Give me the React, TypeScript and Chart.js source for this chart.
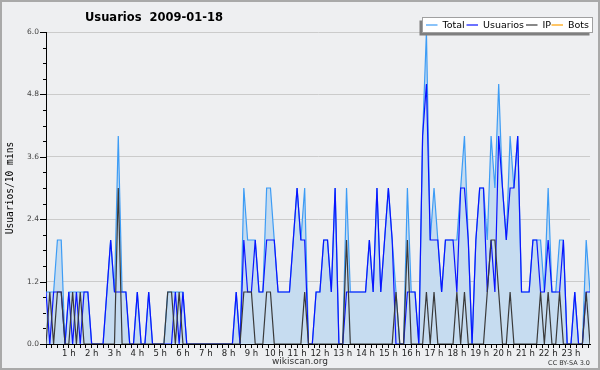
import React, { useEffect, useRef } from "react";
import { Chart, registerables } from "chart.js";

Chart.register(...registerables);

const TITLE = "Usuarios  2009-01-18";
const Y_TITLE = "Usuarios/10 mins";
const hourLabels = [
  "1 h", "2 h", "3 h", "4 h", "5 h", "6 h", "7 h", "8 h", "9 h", "10 h", "11 h", "12 h",
  "13 h", "14 h", "15 h", "16 h", "17 h", "18 h", "19 h", "20 h", "21 h", "22 h", "23 h",
];
const legendLabels = ["Total", "Usuarios", "IP", "Bots"];

// 144 ten-minute slots, 0:00 .. 23:50
const total = [
  1, 1, 1, 2, 2, 0, 1, 1, 1, 1, 1, 1,
  0, 0, 0, 0, 1, 2, 1, 4, 1, 1, 0, 0,
  1, 0, 0, 1, 0, 0, 0, 0, 1, 1, 1, 1,
  1, 0, 0, 0, 0, 0, 0, 0, 0, 0, 0, 0,
  0, 0, 1, 0, 3, 2, 2, 2, 1, 1, 3, 3,
  2, 1, 1, 1, 1, 2, 3, 2, 3, 0, 0, 1,
  1, 2, 2, 1, 3, 0, 0, 3, 1, 1, 1, 1,
  1, 2, 1, 3, 1, 2, 3, 2, 1, 0, 0, 3,
  1, 1, 0, 4, 6, 2, 3, 2, 1, 2, 2, 2,
  2, 3, 4, 2, 0, 2, 3, 3, 2, 4, 3, 5,
  3, 2, 4, 3, 4, 1, 1, 1, 2, 2, 2, 1,
  3, 1, 1, 2, 2, 0, 0, 1, 0, 0, 2, 1,
];
const usuarios = [
  1, 0, 1, 1, 1, 0, 1, 0, 1, 0, 1, 1,
  0, 0, 0, 0, 1, 2, 1, 1, 1, 1, 0, 0,
  1, 0, 0, 1, 0, 0, 0, 0, 0, 0, 1, 0,
  1, 0, 0, 0, 0, 0, 0, 0, 0, 0, 0, 0,
  0, 0, 1, 0, 2, 1, 1, 2, 1, 1, 2, 2,
  2, 1, 1, 1, 1, 2, 3, 2, 2, 0, 0, 1,
  1, 2, 2, 1, 3, 0, 0, 1, 1, 1, 1, 1,
  1, 2, 1, 3, 1, 2, 3, 2, 0, 0, 0, 1,
  1, 1, 0, 4, 5, 2, 2, 2, 1, 2, 2, 2,
  1, 3, 3, 2, 0, 2, 3, 3, 1, 2, 1, 4,
  3, 2, 3, 3, 4, 1, 1, 1, 2, 2, 1, 1,
  2, 1, 1, 1, 2, 0, 0, 1, 0, 0, 1, 1,
];
const ip = [
  0, 1, 0, 1, 1, 0, 0, 1, 0, 1, 0, 0,
  0, 0, 0, 0, 0, 0, 0, 3, 0, 0, 0, 0,
  0, 0, 0, 0, 0, 0, 0, 0, 1, 1, 0, 1,
  0, 0, 0, 0, 0, 0, 0, 0, 0, 0, 0, 0,
  0, 0, 0, 0, 1, 1, 1, 0, 0, 0, 1, 1,
  0, 0, 0, 0, 0, 0, 0, 0, 1, 0, 0, 0,
  0, 0, 0, 0, 0, 0, 0, 2, 0, 0, 0, 0,
  0, 0, 0, 0, 0, 0, 0, 0, 1, 0, 0, 2,
  0, 0, 0, 0, 1, 0, 1, 0, 0, 0, 0, 0,
  1, 0, 1, 0, 0, 0, 0, 0, 1, 2, 2, 1,
  0, 0, 1, 0, 0, 0, 0, 0, 0, 0, 1, 0,
  1, 0, 0, 1, 0, 0, 0, 0, 0, 0, 1, 0,
];
const bots = [
  0, 0, 0, 0, 0, 0, 0, 0, 0, 0, 0, 0,
  0, 0, 0, 0, 0, 0, 0, 0, 0, 0, 0, 0,
  0, 0, 0, 0, 0, 0, 0, 0, 0, 0, 0, 0,
  0, 0, 0, 0, 0, 0, 0, 0, 0, 0, 0, 0,
  0, 0, 0, 0, 0, 0, 0, 0, 0, 0, 0, 0,
  0, 0, 0, 0, 0, 0, 0, 0, 0, 0, 0, 0,
  0, 0, 0, 0, 0, 0, 0, 0, 0, 0, 0, 0,
  0, 0, 0, 0, 0, 0, 0, 0, 0, 0, 0, 0,
  0, 0, 0, 0, 0, 0, 0, 0, 0, 0, 0, 0,
  0, 0, 0, 0, 0, 0, 0, 0, 0, 0, 0, 0,
  0, 0, 0, 0, 0, 0, 0, 0, 0, 0, 0, 0,
  0, 0, 0, 0, 0, 0, 0, 0, 0, 0, 0, 0,
];

const COLORS = {
  total: "#3d9cf5",
  totalFill: "#c6dcf0",
  usuarios: "#0a14ff",
  ip: "#3a3a3a",
  bots: "#ffa000",
  bg: "#eeeff1",
};

const pts = (arr: number[]) => arr.map((v, i) => ({ x: i, y: v }));
const isMajorY = (v: number) => Math.round(v * 10) % 12 === 0;

const decoPlugin = {
  id: "deco",
  beforeDraw(chart: any) {
    const c = chart.ctx;
    c.save();
    c.fillStyle = COLORS.bg;
    c.fillRect(0, 0, chart.width, chart.height);
    c.strokeStyle = "#a9a9a9";
    c.lineWidth = 2;
    c.strokeRect(1, 1, chart.width - 2, chart.height - 2);
    c.restore();
  },
  afterDraw(chart: any) {
    const c = chart.ctx;
    const ca = chart.chartArea;
    const ys = chart.scales.y;
    c.save();
    // y tick marks: long for labelled ticks, short for minor ones
    c.strokeStyle = "#000";
    c.lineWidth = 1;
    ys.ticks.forEach((t: any) => {
      const py = Math.round(ys.getPixelForValue(t.value)) + 0.5;
      const len = isMajorY(t.value) ? 6 : 3;
      c.beginPath();
      c.moveTo(ca.left - len, py);
      c.lineTo(ca.left, py);
      c.stroke();
    });
    // title
    c.fillStyle = "#000";
    c.textBaseline = "alphabetic";
    c.textAlign = "left";
    c.font = 'bold 11.5px "DejaVu Sans"';
    c.fillText(TITLE, 85, 21);
    // footer
    c.fillStyle = "#333";
    c.font = '9px "DejaVu Sans"';
    c.textAlign = "center";
    c.fillText("wikiscan.org", 300, 364);
    c.font = '6.5px "DejaVu Sans"';
    c.textAlign = "right";
    c.fillText("CC BY-SA 3.0", 590, 365);
    // legend
    const lx = 422.5, ly = 17.5, lw = 170, lh = 15;
    c.fillStyle = "#7f7f7f";
    c.fillRect(lx - 3, ly + 3, lw, lh);
    c.fillStyle = "#ffffff";
    c.fillRect(lx, ly, lw, lh);
    c.strokeStyle = "#a0a0a0";
    c.lineWidth = 1;
    c.strokeRect(lx, ly, lw, lh);
    const cols = [COLORS.total, COLORS.usuarios, COLORS.ip, COLORS.bots];
    const lineX = [426, 466.5, 526, 551.5];
    c.font = '9.5px "DejaVu Sans"';
    c.textAlign = "left";
    c.textBaseline = "middle";
    legendLabels.forEach((t, k) => {
      c.strokeStyle = cols[k];
      c.lineWidth = 1.2;
      c.beginPath();
      c.moveTo(lineX[k], ly + 7.5);
      c.lineTo(lineX[k] + 11.5, ly + 7.5);
      c.stroke();
      c.fillStyle = "#000";
      c.fillText(t, lineX[k] + 16.5, ly + 8);
    });
    // y title
    c.translate(12.5, (ca.top + ca.bottom) / 2);
    c.rotate(-Math.PI / 2);
    c.textAlign = "center";
    c.textBaseline = "alphabetic";
    c.fillStyle = "#000";
    c.font = '9.6px "DejaVu Sans Mono"';
    c.fillText(Y_TITLE, 0, 0);
    c.restore();
  },
};

export default function App() {
  const ref = useRef<HTMLCanvasElement>(null);
  useEffect(() => {
    document.body.style.margin = "0";
    const canvas = ref.current!;
    const line = (label: string, data: number[], color: string, extra: any = {}) => ({
      label,
      data: pts(data),
      borderColor: color,
      borderWidth: 1.2,
      pointRadius: 0,
      tension: 0,
      fill: false,
      ...extra,
    });
    const chart = new Chart(canvas, {
      type: "line",
      data: {
        datasets: [
          line("IP", ip, COLORS.ip),
          line("Usuarios", usuarios, COLORS.usuarios),
          line("Total", total, COLORS.total, { fill: "origin", backgroundColor: COLORS.totalFill }),
          line("Bots", bots, COLORS.bots),
        ],
      },
      options: {
        responsive: false,
        animation: false,
        events: [],
        layout: { padding: { top: 32, right: 10, left: 0, bottom: 0 } },
        plugins: { legend: { display: false }, tooltip: { enabled: false }, title: { display: false } },
        scales: {
          x: {
            type: "linear",
            min: 0,
            max: 143,
            afterFit: (s: any) => { s.height = 26; },
            afterBuildTicks: (s: any) => {
              const t = [];
              for (let v = 0; v <= 143; v += 1.5) t.push({ value: v });
              s.ticks = t;
            },
            ticks: {
              autoSkip: false,
              maxRotation: 0,
              padding: 1,
              color: "#222",
              font: { family: "DejaVu Sans", size: 8.5 },
              callback: (v: any) => {
                const n = Math.round(v * 10);
                if (n % 60 === 0 && n > 0 && n < 1440) return hourLabels[n / 60 - 1];
                return "";
              },
            },
            grid: { drawOnChartArea: false, color: "#000", tickColor: "#000", tickLength: 4 },
            border: { color: "#000", width: 1 },
          },
          y: {
            min: 0,
            max: 6,
            afterFit: (s: any) => { s.width = 46; },
            ticks: {
              stepSize: 0.3,
              autoSkip: false,
              padding: 7,
              color: "#444",
              font: { family: "DejaVu Sans", size: 7.5 },
              callback: (v: any) => (isMajorY(v) ? (Math.round(v * 10) / 10).toFixed(1) : ""),
            },
            grid: {
              color: (ctx: any) => (isMajorY(ctx.tick.value) && ctx.tick.value > 0 ? "#cbcbcb" : "rgba(0,0,0,0)"),
              drawTicks: false,
            },
            border: { color: "#000", width: 1 },
          },
        },
      },
      plugins: [decoPlugin],
    });
    return () => chart.destroy();
  }, []);
  return <canvas ref={ref} width={600} height={370} style={{ display: "block" }} />;
}
